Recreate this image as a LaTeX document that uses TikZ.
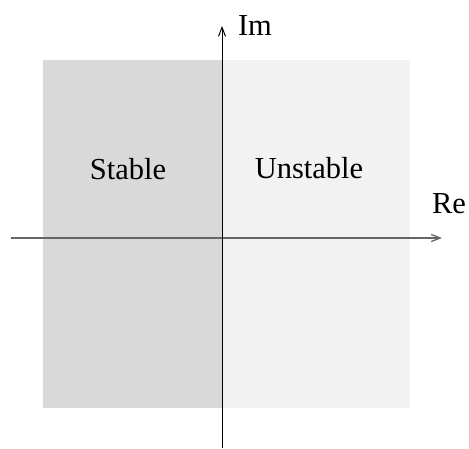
\documentclass[tikz,border=0pt]{standalone}
\usepackage{fontspec}
\setmainfont{Liberation Serif}
\usetikzlibrary{arrows.meta}
\definecolor{stabfill}{HTML}{D9D9D9}
\definecolor{unstabfill}{HTML}{F2F2F2}
\definecolor{regrey}{HTML}{666666}
\begin{document}
\begin{tikzpicture}[x=1pt,y=-1pt,
    axis/.style={-{Straight Barb[length=9pt,width=7pt]}}]

      \useasboundingbox (0,0) rectangle (469,448);

      \fill[stabfill]   (43,60)  rectangle (222,408);
      \fill[unstabfill] (222,60) rectangle (410,408);

      \coordinate (reL) at (11,238);
      \coordinate (reR) at (442,238);
      \coordinate (imB) at (222,448);
      \coordinate (imT) at (222,26);

      \draw[axis,regrey,line width=1.3pt] (reL) -- (reR);
      \draw[axis,black,line width=1pt] (imB) -- (imT);

      \begin{scope}[every node/.style={font=\fontsize{30.5}{36}\selectfont,anchor=base}]
        \node (s)  at (128,179) {Stable};
        \node (u)  at (309,178) {Unstable};
        \node (re) at (449,213) {Re};
        \node (im) at (255,35)  {Im};
      \end{scope}

    \end{tikzpicture}
\end{document}
